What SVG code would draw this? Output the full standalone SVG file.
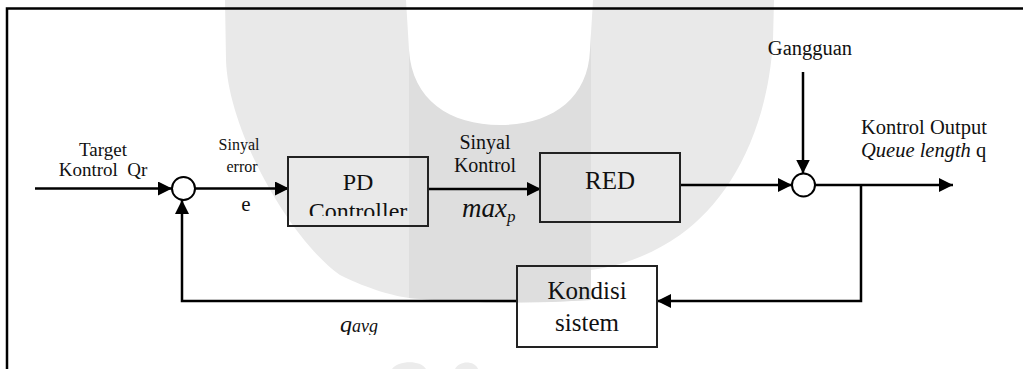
<svg xmlns="http://www.w3.org/2000/svg" width="1023" height="369" viewBox="0 0 1023 369" font-family="'Liberation Serif', 'Times New Roman', 'DejaVu Serif', serif">
  <style>
    text { font-family: "Liberation Serif", "Times New Roman", "DejaVu Serif", serif; fill: #111; }
    .wire { fill: none; stroke: #000; stroke-width: 2.5; }
    .box { fill: none; stroke: #222; stroke-width: 2; }
    .sum { fill: #fff; stroke: #000; stroke-width: 2; }
    .frame { fill: none; stroke: #000; stroke-width: 2.5; }
    .it { font-style: italic; }
  </style>
  <defs>
    <marker id="arrow" markerUnits="userSpaceOnUse" markerWidth="16" markerHeight="16" refX="14" refY="7" orient="auto">
      <path d="M0,0 L14,7 L0,14 Z" fill="#000"/>
    </marker>
    <clipPath id="clipPD"><rect x="288" y="157" width="140" height="59"/></clipPath>
    <clipPath id="clipQ"><rect x="320" y="300" width="80" height="35"/></clipPath>
  </defs>

  <rect width="1023" height="369" fill="#fff"/>

  <!-- background emblem -->
  <g id="emblem">
    <path d="M225,0 L774,0 L773,40 C768,130 730,200 680,235 C650,256 620,266 591,270 L591,300 Q500,306 409,298 C395,296 370,290 340,275 C290,240 228,130 226,60 Z" fill="#e9e9e9"/>
    <path d="M409,0 L591,0 L591,300 Q500,306 409,298 Z" fill="#dedede"/>
    <path d="M406,0 L409,50 C412,100 450,125 500,125 C550,125 588,100 590,50 L593,0 Z" fill="#fff"/>
    <path d="M392,369 C397,361 420,359 426,369 Z" fill="#ececec"/>
    <path d="M455,369 C459,361 474,360 478,369 Z" fill="#ececec"/>
  </g>

  <!-- frame -->
  <g id="frame">
    <path class="frame" d="M7,369 L7,8.5 L1023,8.5"/>
  </g>

  <!-- connectors -->
  <g id="connectors">
    <line class="wire" x1="35" y1="188.5" x2="172" y2="188.5" marker-end="url(#arrow)"/>
    <line class="wire" x1="195" y1="188.5" x2="289" y2="188.5" marker-end="url(#arrow)"/>
    <line class="wire" x1="428" y1="189" x2="541" y2="189" marker-end="url(#arrow)"/>
    <line class="wire" x1="680" y1="185" x2="792" y2="185" marker-end="url(#arrow)"/>
    <line class="wire" x1="803" y1="72" x2="803" y2="173.5" marker-end="url(#arrow)"/>
    <line class="wire" x1="815" y1="185" x2="953" y2="185" marker-end="url(#arrow)"/>
    <polyline class="wire" points="861,185 861,301 657,301" marker-end="url(#arrow)"/>
    <polyline class="wire" points="517,301 182,301 182,200" marker-end="url(#arrow)"/>
  </g>

  <!-- summing junctions -->
  <g id="sum-error">
    <circle class="sum" cx="183.5" cy="188.5" r="11.5"/>
  </g>
  <g id="sum-disturbance">
    <circle class="sum" cx="803.5" cy="185" r="11.5"/>
  </g>

  <!-- blocks -->
  <g id="pd-controller">
    <rect class="box" x="288" y="157" width="140" height="69"/>
    <text x="358" y="190" font-size="24" text-anchor="middle">PD</text>
    <text x="358" y="219" font-size="24" text-anchor="middle" clip-path="url(#clipPD)">Controller</text>
  </g>
  <g id="red">
    <rect class="box" x="540" y="153" width="140" height="69"/>
    <text x="610" y="189" font-size="25" text-anchor="middle">RED</text>
  </g>
  <g id="kondisi-sistem">
    <rect class="box" x="517" y="266" width="140" height="81"/>
    <text x="587" y="299" font-size="25" text-anchor="middle">Kondisi</text>
    <text x="587" y="331" font-size="25" text-anchor="middle">sistem</text>
  </g>

  <!-- signal labels -->
  <g id="label-target">
    <text x="103" y="156" font-size="19" text-anchor="middle">Target</text>
    <text x="103" y="176" font-size="19" text-anchor="middle" xml:space="preserve">Kontrol  Qr</text>
  </g>
  <g id="label-error">
    <text x="239" y="150" font-size="16" text-anchor="middle">Sinyal</text>
    <text x="242" y="172" font-size="16" text-anchor="middle">error</text>
    <text x="246" y="211" font-size="21" text-anchor="middle">e</text>
  </g>
  <g id="label-control">
    <text x="485" y="149" font-size="20" text-anchor="middle">Sinyal</text>
    <text x="485" y="172" font-size="20" text-anchor="middle">Kontrol</text>
    <text x="462" y="217" font-size="27" class="it">max<tspan font-size="17" dy="5">p</tspan></text>
  </g>
  <g id="label-disturbance">
    <text x="810" y="55" font-size="20.5" text-anchor="middle">Gangguan</text>
  </g>
  <g id="label-output">
    <text x="861" y="134" font-size="20.5">Kontrol Output</text>
    <text x="861" y="157" font-size="20.5"><tspan class="it">Queue length</tspan> q</text>
  </g>
  <g id="label-feedback">
    <text x="340" y="332" font-size="24" class="it" clip-path="url(#clipQ)">q<tspan font-size="18">avg</tspan></text>
  </g>
</svg>
